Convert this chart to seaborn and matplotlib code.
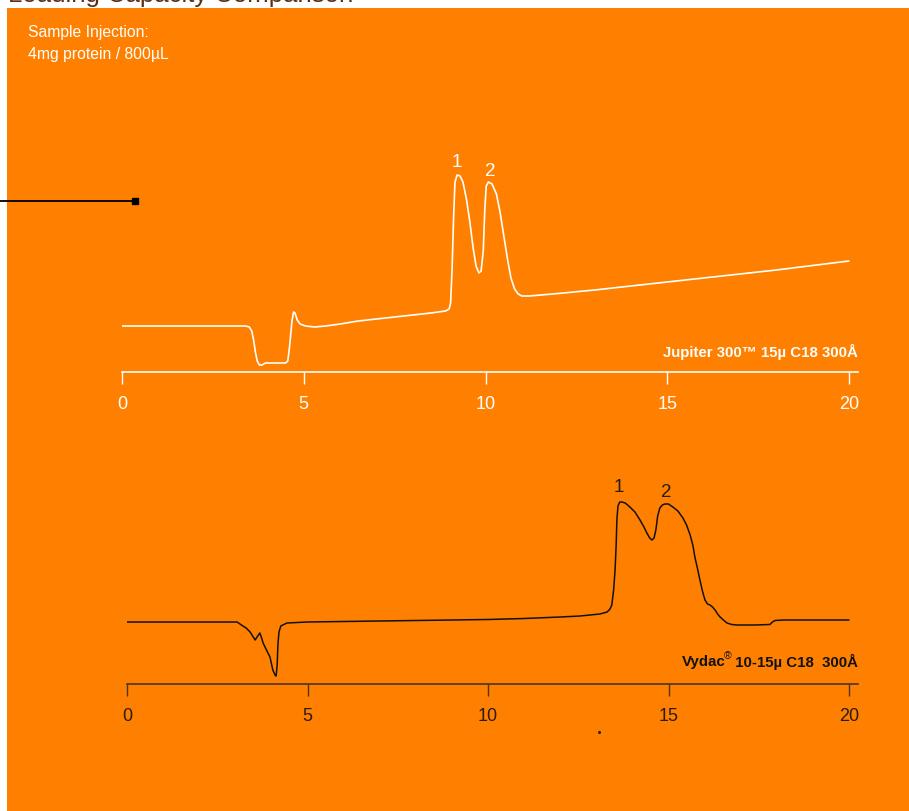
import matplotlib
matplotlib.use("Agg")
import matplotlib.pyplot as plt
from matplotlib.patches import Rectangle
from matplotlib.lines import Line2D
from matplotlib.transforms import offset_copy
import seaborn as sns
import pandas as pd

# ---- data -------------------------------------------------------------
# Jupiter 300 (15u C18 300A) trace: time (min) and detector response (a.u.)
jupiter_time = [0.00, 3.40, 3.50, 3.57, 3.62, 3.67, 3.72, 3.78, 3.85, 3.95,
                4.20, 4.50, 4.56, 4.60, 4.64, 4.68, 4.72, 4.76, 4.82, 4.90,
                5.05, 5.30, 5.60, 6.00, 6.50, 7.00, 7.50, 8.00, 8.50, 8.90,
                9.00, 9.04, 9.08, 9.12, 9.16, 9.22, 9.30, 9.38, 9.48, 9.57,
                9.66, 9.74, 9.82, 9.88, 9.94, 9.98, 10.02, 10.08, 10.18, 10.30,
                10.40, 10.50, 10.60, 10.70, 10.80, 10.90, 11.00, 11.20, 12.00, 13.00,
                14.00, 15.00, 16.00, 17.00, 18.00, 19.00, 20.00]
jupiter_signal = [0, 0, -1, -5, -14, -26, -35, -39, -39, -37,
                  -37, -37, -35, -24, -9, 6, 14, 13, 6, 2,
                  0, -1, 0, 2, 5, 7, 9, 11, 13, 15,
                  17, 23, 56, 106, 144, 151, 150, 144, 126, 104,
                  78, 60, 53, 55, 76, 116, 140, 144, 142, 132,
                  114, 91, 68, 48, 37, 32, 30, 30, 32.5, 36,
                  40, 44, 48, 52, 56, 60.5, 65]

# Vydac (10-15u C18 300A) trace
vydac_time = [0.00, 1.00, 2.00, 2.80, 3.05, 3.21, 3.30, 3.41, 3.48, 3.55,
              3.62, 3.68, 3.72, 3.77, 3.85, 3.96, 4.04, 4.10, 4.13, 4.16,
              4.18, 4.21, 4.26, 4.43, 5.00, 6.00, 7.00, 8.00, 9.00, 10.00,
              11.00, 12.00, 12.55, 13.10, 13.30, 13.38, 13.43, 13.48, 13.52, 13.55,
              13.57, 13.60, 13.65, 13.71, 13.80, 13.93, 14.07, 14.21, 14.32, 14.40,
              14.48, 14.54, 14.60, 14.65, 14.70, 14.76, 14.83, 14.90, 15.00, 15.12,
              15.26, 15.40, 15.50, 15.60, 15.68, 15.73, 15.80, 15.87, 15.94, 16.01,
              16.08, 16.15, 16.22, 16.29, 16.36, 16.43, 16.52, 16.62, 16.75, 16.90,
              17.40, 17.81, 17.88, 17.95, 18.20, 19.00, 20.00]
vydac_signal = [0, 0, 0, 0, 0, -4, -6, -10, -14, -18,
                -14, -11, -15, -21, -27, -35, -48, -53, -54, -43,
                -23, -10, -4, -1, 0, 0.5, 1, 1.5, 2, 2.5,
                3.5, 5, 6, 8, 10, 13, 17, 32, 52, 77,
                102, 116, 120, 120, 119, 115, 110, 102, 95, 89,
                84, 82, 84, 92, 106, 114, 117, 118, 118, 115,
                111, 104, 97, 87, 76, 65, 54, 42, 31, 22,
                18, 17, 15, 12, 8, 5, 2, -1, -2.5, -3,
                -3, -2.5, 0, 1.5, 2, 2, 2]

tick_values = [0, 5, 10, 15, 20]
peak_labels = ["1", "2"]
jupiter_peak_pos = [(9.22, 163), (10.12, 154.5)]
vydac_peak_pos = [(13.63, 134), (14.93, 129.5)]
jupiter_name = "Jupiter 300™ 15µ C18 300Å"
vydac_brand = "Vydac"
vydac_spec = " 10-15µ C18  300Å"
injection_lines = ["Sample Injection:", "4mg protein / 800µL"]
title_text = "Loading Capacity Comparison"

# ---- style ------------------------------------------------------------
sns.set_style("ticks")
plt.rcParams["font.family"] = ["Liberation Sans", "DejaVu Sans"]
SANS = ["Liberation Sans", "DejaVu Sans"]
ORANGE = "#FF8000"
WHITE = "#FFFFFF"
DARK = "#2a1c10"
AXDARK = "#4a3422"

W, H = 909, 811
fig = plt.figure(figsize=(W / 100, H / 100), dpi=100, facecolor="white")


def fx(px):
    return px / W


def fy(py):
    return 1 - py / H


# orange panel
fig.add_artist(Rectangle((fx(7), 0), 1 - fx(7), fy(8), transform=fig.transFigure,
                         facecolor=ORANGE, edgecolor="none", zorder=-5))

# title running off the top edge
fig.text(fx(8), fy(2), title_text, fontsize=18.5, color="#5c2e14",
         va="baseline", ha="left", family=SANS)

# injection note
fig.text(fx(28), fy(33), injection_lines[0], fontsize=11.3, color=WHITE,
         va="center", ha="left", family=SANS, fontstretch="condensed")
fig.text(fx(28), fy(55), injection_lines[1], fontsize=11.3, color=WHITE,
         va="center", ha="left", family=SANS, fontstretch="condensed")

# leader line with square end
fig.add_artist(Line2D([0, fx(135)], [fy(201), fy(201)], transform=fig.transFigure,
                      color="black", lw=1.3, zorder=5))
fig.add_artist(Line2D([fx(135)], [fy(201)], transform=fig.transFigure,
                      color="black", marker="s", markersize=5, lw=0, zorder=5))


def make_axes(left_px, right_px, base_px, top_px, ylim):
    ax = fig.add_axes([fx(left_px), fy(base_px), fx(right_px - left_px),
                       (base_px - top_px) / H])
    ax.set_facecolor("none")
    ax.set_ylim(*ylim)
    for s in ("left", "right", "top"):
        ax.spines[s].set_visible(False)
    ax.set_yticks([])
    return ax


def style_xaxis(ax, xmax, line_color, label_color):
    ax.set_xlim(0, xmax)
    ax.set_xticks(tick_values)
    ax.set_xticklabels([str(v) for v in tick_values])
    ax.spines["bottom"].set_color(line_color)
    ax.spines["bottom"].set_linewidth(1.2)
    ax.tick_params(axis="x", length=8.6, width=1.0, color=line_color,
                   labelcolor=label_color, labelsize=13, pad=8.5, direction="out")
    ax.set_xlabel("")
    ax.set_ylabel("")


# ---- Jupiter panel ----------------------------------------------------
ax1 = make_axes(122, 858, 372, 150, (-46, 176))
df1 = pd.DataFrame({"time": jupiter_time, "signal": jupiter_signal})
sns.lineplot(data=df1, x="time", y="signal", ax=ax1, color=WHITE, lw=1.2,
             sort=False, estimator=None)
x1max = 20 + 9 / 36.35
style_xaxis(ax1, x1max, WHITE, WHITE)
for lab, (t, v) in zip(peak_labels, jupiter_peak_pos):
    ax1.text(t, v, lab, color=WHITE, fontsize=13.5, ha="center", va="center")
ax1.text(x1max, -26, jupiter_name, color=WHITE, fontsize=10.8,
         fontweight="bold", ha="right", va="center", family=SANS)

# ---- Vydac panel ------------------------------------------------------
ax2 = make_axes(127, 858, 684, 470, (-62, 152))
df2 = pd.DataFrame({"time": vydac_time, "signal": vydac_signal})
sns.lineplot(data=df2, x="time", y="signal", ax=ax2, color="#111111", lw=1.1,
             sort=False, estimator=None)
x2max = 20 + 9 / 36.1
style_xaxis(ax2, x2max, AXDARK, DARK)
for lab, (t, v) in zip(peak_labels, vydac_peak_pos):
    ax2.text(t, v, lab, color=DARK, fontsize=13.5, ha="center", va="center")

# column name: spec text right-aligned, then superscript mark and brand before it
spec = ax2.text(x2max, -40, vydac_spec, color="#111111", fontsize=10.8,
                fontweight="bold", ha="right", va="center", family=SANS)
fig.canvas.draw()
renderer = fig.canvas.get_renderer()
bb = spec.get_window_extent(renderer).transformed(ax2.transData.inverted())
reg = ax2.text(bb.x0, -40, "®", color="#111111", fontsize=7.5,
               ha="right", va="center", family=SANS,
               transform=offset_copy(ax2.transData, fig=fig, x=0.5, y=4, units="points"))
fig.canvas.draw()
bb2 = reg.get_window_extent(renderer).transformed(ax2.transData.inverted())
ax2.text(bb2.x0 + 0.03, -40, vydac_brand, color="#111111", fontsize=10.8,
         fontweight="bold", ha="right", va="center", family=SANS)

# stray speck below the lower axis
fig.add_artist(Line2D([fx(599)], [fy(732)], transform=fig.transFigure,
                      color=DARK, marker="o", markersize=1.2, lw=0))

fig.savefig("out.png", dpi=100, facecolor="white")
